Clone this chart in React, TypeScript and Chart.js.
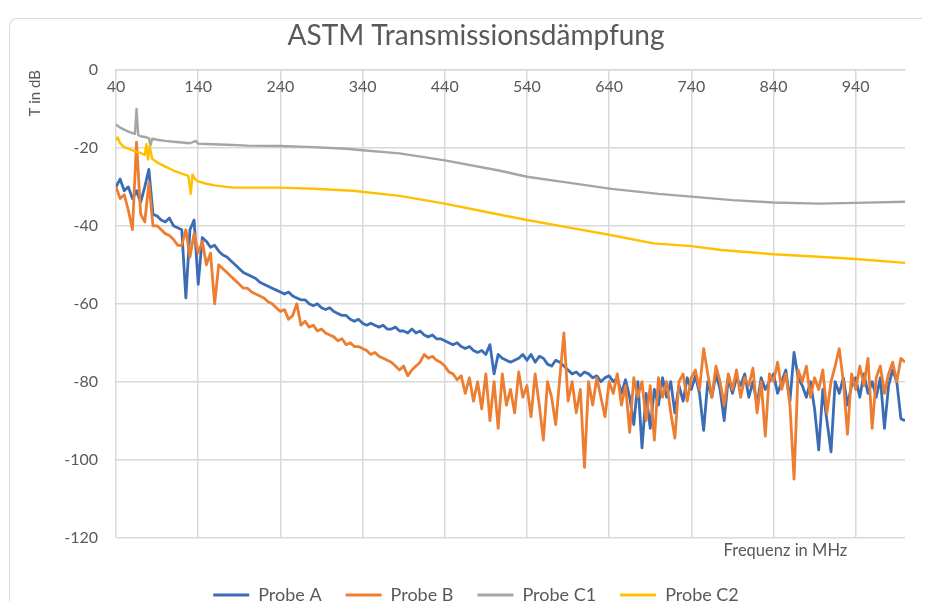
import React, { useEffect, useRef } from "react";
import { Chart, registerables } from "chart.js";

Chart.register(...registerables);

const chartTitle = "ASTM Transmissionsdämpfung";
const yAxisTitle = "T in dB";
const xAxisTitle = "Frequenz in MHz";
const seriesNames = ["Probe A", "Probe B", "Probe C1", "Probe C2"];
const seriesColors = ["#3a6db5", "#ed7d31", "#a5a5a5", "#ffc000"];

const xTicks = [40, 140, 240, 340, 440, 540, 640, 740, 840, 940];
const yTicks = [0, -20, -40, -60, -80, -100, -120];

// Probe A / Probe B sampled every 5 MHz from 40 to 1000 MHz
const freqStart = 40;
const freqStep = 5;

const probeA = [
  -30, -28, -31, -30, -33, -31, -34, -30, -25.5, -37,
  -37.5, -38.5, -39, -38, -40, -40.5, -41, -58.5, -41, -38.5,
  -55, -43, -44, -45.5, -45, -46.5, -47.5, -48, -49, -50,
  -51, -52, -52.5, -53, -53.5, -54.5, -55, -55.5, -56, -56.5,
  -57, -57.5, -57, -58, -58.5, -59, -59, -60, -60.5, -60,
  -61, -61.5, -61, -62, -62.5, -63, -63, -64, -64.5, -64,
  -65, -65.5, -65, -65.5, -66, -65.5, -66.5, -66.5, -66, -67,
  -67, -67.5, -66.5, -67.5, -67, -68, -68.5, -68, -69, -69,
  -69.5, -70, -70.5, -70, -71, -71.5, -71, -72, -72.5, -72,
  -73, -70.5, -78, -73, -74, -74.5, -75, -74.5, -74, -73,
  -74.5, -73, -75, -73.5, -74, -75.5, -76, -74.5, -75, -76,
  -77, -78, -77.5, -78.5, -77.5, -78, -79, -78.5, -80, -79,
  -78.5, -80, -79, -83, -79.5, -84, -91, -80, -97, -83,
  -92, -82, -86, -79, -84, -80, -88, -81, -85, -79,
  -82, -78.5, -83, -92.5, -80, -84, -78, -82, -90, -79,
  -83, -79, -81, -78, -84, -80, -86, -79, -82, -80,
  -78, -83, -80, -77, -85, -72.5, -79, -81, -84, -80,
  -87, -97.5, -82, -90, -98, -80, -83, -79, -86, -81,
  -79, -84, -78, -83, -80, -84, -79, -92, -81, -77,
  -80, -89.5, -90,
];

const probeB = [
  -30, -33, -32, -36, -41, -18.5, -37, -39, -29, -40,
  -40, -41, -42, -42.5, -43.5, -45, -45, -41, -48, -42,
  -47, -44, -50, -47, -60, -50, -51, -52, -53, -54,
  -55, -56, -56, -57, -57.5, -58, -58.5, -59.5, -60, -61,
  -62, -61.5, -64, -63, -60, -65.5, -64.5, -66, -65.5, -67,
  -66.5, -67.5, -68, -68.5, -69.5, -69, -70.5, -70, -71, -71,
  -71.5, -72, -73, -72.5, -73.5, -74, -74.5, -75, -76, -77,
  -76, -78.5, -77, -76, -75, -73, -74, -73.5, -74.5, -75,
  -76, -77.5, -78, -79.5, -78.5, -83, -79, -85, -80, -87,
  -78, -90, -80, -92, -78, -86, -82, -88, -77.5, -84,
  -81, -89, -78, -86, -95, -80, -84, -91, -79, -67.5,
  -85, -80, -88, -82, -102, -80, -86, -79, -84, -89,
  -80, -83, -78, -86, -81, -93, -79, -84, -80, -90,
  -81, -95, -79, -84, -80, -88, -94.5, -80, -78, -85,
  -79, -77, -82, -71.5, -78, -84, -76, -80, -86, -78,
  -82, -77, -84, -79, -81, -76.5, -88, -80, -94, -78,
  -80, -75, -82, -78, -86, -105, -77, -80, -76, -84,
  -79, -82, -77, -88, -80, -76, -71.5, -80, -93.5, -78,
  -82, -76, -81, -74, -92, -79, -76, -83, -78, -75,
  -80, -74, -75,
];

const probeC1Freq = [40, 45, 50, 55, 60, 63, 65, 67, 70, 75, 80, 82, 84, 90, 100, 110, 120, 130, 137, 140, 150, 175, 200, 240, 280, 320, 340, 385, 440, 506, 540, 590, 643, 700, 740, 790, 840, 895, 940, 1000];
const probeC1 = [-14, -14.8, -15.3, -15.8, -16.2, -16.4, -10, -16.7, -17, -17.2, -17.5, -19.4, -17.6, -17.9, -18.2, -18.4, -18.6, -18.8, -18.2, -18.9, -19, -19.2, -19.4, -19.5, -19.8, -20.2, -20.6, -21.4, -23.2, -25.8, -27.4, -28.9, -30.5, -31.8, -32.5, -33.4, -34, -34.3, -34.1, -33.8];

const probeC2Freq = [40, 42, 45, 50, 55, 60, 65, 70, 75, 77, 79, 81, 84, 90, 100, 110, 120, 128, 131, 133, 136, 140, 150, 160, 182, 239, 280, 328, 385, 440, 480, 540, 590, 640, 694, 740, 777, 840, 900, 940, 1000];
const probeC2 = [-18, -17.3, -18.8, -19.8, -20.2, -20.6, -21, -21.3, -21.8, -19, -23, -19.5, -22.8, -23.7, -24.8, -25.8, -26.6, -27.2, -31.8, -26.8, -28, -28.6, -29.2, -29.6, -30.2, -30.2, -30.5, -31, -32.3, -34.3, -36, -38.5, -40.4, -42.3, -44.5, -45.2, -46.2, -47.3, -48, -48.5, -49.5];

const textColor = "#595959";
const gridColor = "#d9d9d9";

function toPoints(xs: number[], ys: number[]) {
  return ys.map((y, i) => ({ x: xs[i], y }));
}

export default function App() {
  const canvasRef = useRef<HTMLCanvasElement | null>(null);

  useEffect(() => {
    if (!canvasRef.current) return;
    Chart.defaults.font.family = "Lato";
    const freqAB = probeA.map((_, i) => freqStart + i * freqStep);
    const seriesData = [
      toPoints(freqAB, probeA),
      toPoints(freqAB, probeB),
      toPoints(probeC1Freq, probeC1),
      toPoints(probeC2Freq, probeC2),
    ];
    const widths = [2.8, 2.8, 2.4, 2.4];
    const orders = [4, 3, 2, 1];
    const chart = new Chart(canvasRef.current, {
      type: "line",
      data: {
        datasets: seriesData.map((d, i) => ({
          label: seriesNames[i],
          data: d,
          borderColor: seriesColors[i],
          backgroundColor: seriesColors[i],
          borderWidth: widths[i],
          pointRadius: 0,
          tension: 0,
          borderJoinStyle: "round" as const,
          order: orders[i],
          xAxisID: "x",
          yAxisID: "y",
        })),
      },
      options: {
        animation: false,
        responsive: false,
        layout: { padding: { left: 12.6, right: 0.6, top: 0, bottom: 25 } },
        plugins: {
          title: {
            display: true,
            text: chartTitle,
            color: textColor,
            font: { size: 28, weight: "normal" },
            padding: { top: 0, bottom: 17.4 },
          },
          legend: {
            position: "bottom",
            labels: {
              boxWidth: 36,
              boxHeight: 3,
              padding: 24,
              color: textColor,
              font: { size: 18 },
              sort: (a: any, b: any) => a.datasetIndex - b.datasetIndex,
              generateLabels: (c: any) =>
                Chart.defaults.plugins.legend.labels
                  .generateLabels(c)
                  .map((l: any) => ({ ...l, lineWidth: 0 })),
            },
          },
          tooltip: { enabled: false },
        },
        scales: {
          x: {
            type: "linear",
            position: { y: 0 } as any,
            min: 40,
            max: 1000,
            afterBuildTicks: (s: any) => {
              s.ticks = xTicks.map((v) => ({ value: v }));
            },
            afterFit: (s: any) => {
              s.height = 0;
            },
            grid: { color: gridColor, lineWidth: 1.5, drawTicks: false },
            border: { display: true, color: gridColor, width: 1.5 },
            ticks: {
              color: textColor,
              font: { size: 16 },
              padding: 7,
              maxRotation: 0,
              autoSkip: false,
            },
          },
          x2: {
            type: "linear",
            position: "bottom",
            min: 40,
            max: 1000,
            grid: { display: false, drawTicks: false },
            border: { display: false },
            ticks: { display: false },
            title: {
              display: true,
              text: xAxisTitle + "\u2002\u2002\u2002\u2002\u2002\u2002\u2002",
              align: "end",
              color: textColor,
              font: { size: 16.5 },
              padding: { top: 3, bottom: 1.7 },
            },
          },
          y: {
            type: "linear",
            position: "left",
            min: -120,
            max: 0,
            afterBuildTicks: (s: any) => {
              s.ticks = yTicks.map((v) => ({ value: v }));
            },
            afterFit: (s: any) => {
              s.width = 93.4;
            },
            grid: { color: gridColor, lineWidth: 1.5, drawTicks: false },
            border: { display: false },
            ticks: { color: textColor, font: { size: 16 }, padding: 18 },
            title: {
              display: true,
              text: yAxisTitle,
              align: "end",
              color: textColor,
              font: { size: 15 },
              padding: { top: 3.5, bottom: 0 },
            },
          },
          y2: {
            type: "linear",
            position: "right",
            min: -120,
            max: 0,
            afterFit: (s: any) => {
              s.width = 24.4;
            },
            grid: { display: false, drawTicks: false },
            border: { display: false },
            ticks: { display: false },
          },
        },
      } as any,
    });
    return () => chart.destroy();
  }, []);

  return (
    <div
      style={{
        position: "relative",
        marginTop: 10,
        marginLeft: 1,
        width: 912,
        height: 582,
        overflow: "hidden",
        borderTop: "1px solid #d9d9d9",
        borderLeft: "1px solid #d9d9d9",
        borderTopLeftRadius: 8,
        background: "#ffffff",
      }}
    >
      <canvas
        ref={canvasRef}
        width={920}
        height={620}
        style={{ position: "absolute", left: 0, top: 0, width: 920, height: 620 }}
      />
    </div>
  );
}
